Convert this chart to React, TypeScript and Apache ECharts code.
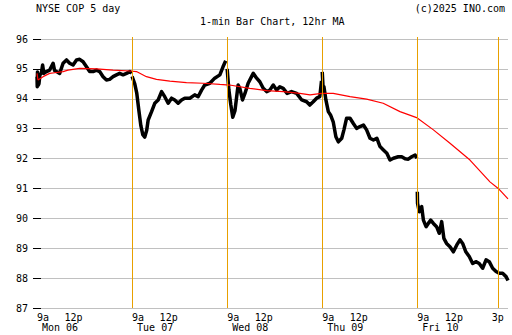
import React, { useEffect, useRef } from "react";
import * as echarts from "echarts";

const MINUTES_PER_DAY = 390;
const X_MAX = 1932;
const dayLabels = ["Mon 06", "Tue 07", "Wed 08", "Thu 09", "Fri 10"];
const hourLabelTicks = [150, 540, 930, 1320, 1710, 1890];
const dayStartTicks = [0, 390, 780, 1170, 1560];
const orangeLines = [390, 780, 1170, 1560, 1890];
const yTicks = { min: 87, max: 96, interval: 1 };

// [minute of session, price]
const monBars: number[][] = [
  [0, 94.74], [1, 94.4], [2, 94.9], [3, 94.63], [5, 94.45], [8, 94.5], [12, 94.8], [18, 94.86], [23, 95.13], [28, 94.85],
  [39, 94.91], [52, 94.96], [66, 95.19], [72, 94.95], [80, 94.91], [93, 94.85], [107, 95.19],
  [121, 95.3], [134, 95.19], [148, 95.13], [162, 95.3], [175, 95.32], [189, 95.24],
  [203, 95.07], [216, 94.91], [230, 94.91], [244, 94.96], [257, 94.91], [271, 94.74],
  [285, 94.63], [298, 94.65], [312, 94.74], [326, 94.8], [339, 94.85], [353, 94.8],
  [367, 94.85], [381, 94.91], [388, 94.85],
];
const tueBars: number[][] = [
  [0, 94.75], [11, 94.5], [19, 94.2], [28, 93.6], [36, 93.1], [44, 92.8], [52, 92.72],
  [60, 92.95], [66, 93.29], [80, 93.57], [93, 93.85], [107, 93.96], [121, 94.24],
  [134, 94.07], [148, 93.85], [162, 94.02], [175, 93.96], [189, 93.85], [203, 93.96],
  [216, 94.02], [237, 94.02], [257, 94.13], [271, 94.07], [285, 94.29], [298, 94.46],
  [319, 94.52], [339, 94.69], [360, 94.8], [373, 95.07], [384, 95.27],
];
const wedBars: number[][] = [
  [0, 95.0], [7, 94.3], [15, 93.8], [23, 93.38], [32, 93.6], [39, 94.07], [45, 94.46],
  [52, 94.35], [63, 93.96], [73, 94.18], [86, 94.52], [100, 94.74], [107, 94.85],
  [121, 94.69], [134, 94.57], [148, 94.35], [162, 94.24], [175, 94.29], [189, 94.46],
  [203, 94.29], [216, 94.4], [230, 94.35], [246, 94.18], [264, 94.24], [285, 94.18],
  [306, 93.96], [326, 93.9], [339, 93.79], [353, 93.9], [367, 94.02], [380, 94.07],
  [387, 94.6],
];
const thuBars: number[][] = [
  [0, 94.9], [4, 94.3], [7, 94.4], [15, 93.96], [25, 93.57], [34, 93.46], [45, 93.23],
  [56, 92.73], [66, 92.56], [80, 92.68], [89, 92.96], [100, 93.35], [114, 93.35],
  [127, 93.18], [141, 93.01], [155, 93.07], [169, 93.12], [182, 92.96], [196, 92.68],
  [210, 92.62], [224, 92.68], [237, 92.4], [251, 92.29], [265, 92.18], [278, 91.95],
  [292, 92.01], [312, 92.06], [326, 92.06], [340, 91.99], [353, 91.98], [367, 92.06],
  [381, 92.12], [388, 92.01],
];
const friBars: number[][] = [
  [0, 90.89], [1, 90.5], [8, 90.22], [18, 90.39], [25, 89.94], [36, 89.72], [45, 89.83],
  [55, 89.94], [66, 89.83], [79, 89.72], [90, 89.5], [100, 89.89], [109, 89.33],
  [120, 89.16], [134, 89.05], [148, 88.88], [162, 89.11], [175, 89.28], [186, 89.16],
  [199, 88.88], [213, 88.72], [227, 88.49], [240, 88.55], [254, 88.49], [268, 88.33],
  [282, 88.61], [295, 88.55], [309, 88.33], [323, 88.22], [336, 88.16], [350, 88.16],
  [364, 88.05], [372, 87.92],
];
const dayBars = [monBars, tueBars, wedBars, thuBars, friBars];

// 12hr moving average: [minute since Mon open, value]
const maLine: number[][] = [
  [0, 94.85], [4, 94.63], [25, 94.74], [52, 94.85], [80, 94.88], [107, 94.91], [127, 94.96],
  [175, 95.02], [244, 95.0], [312, 94.96], [381, 94.93], [408, 94.91], [449, 94.74],
  [490, 94.65], [545, 94.59], [613, 94.54], [681, 94.52], [750, 94.48], [790, 94.46],
  [873, 94.35], [942, 94.27], [1010, 94.24], [1078, 94.18], [1120, 94.13], [1167, 94.18],
  [1215, 94.18], [1284, 94.07], [1352, 93.99], [1420, 93.85], [1489, 93.57], [1557, 93.37],
  [1626, 92.96], [1694, 92.51], [1776, 91.95], [1858, 91.22], [1892, 91.0], [1932, 90.65],
];

const FONT = "DejaVu Sans Mono";
const ORANGE = "#e8a000";

export default function App() {
  const ref = useRef<HTMLDivElement>(null);
  useEffect(() => {
    if (!ref.current) return;
    const chart = echarts.init(ref.current, null, { renderer: "svg" });

    const priceData: (number | null)[][] = [];
    dayBars.forEach((bars, d) => {
      bars.forEach(([m, p]) => priceData.push([d * MINUTES_PER_DAY + m, p]));
      priceData.push([null, null]);
    });

    const hourLabel = (v: number) => (v === 1890 ? "3p" : "12p");
    const dayLabel = (v: number) => {
      const d = Math.round(v / MINUTES_PER_DAY);
      return `{h|9a}\n{d|${dayLabels[d]}}`;
    };
    const titleStyle = { fontFamily: FONT, fontSize: 10, fontWeight: "normal", color: "#000" };

    chart.setOption({
      animation: false,
      backgroundColor: "#ffffff",
      textStyle: { fontFamily: FONT },
      title: [
        { text: "NYSE COP 5 day", left: 36, top: 3, padding: 0, textStyle: titleStyle },
        { text: "1-min Bar Chart, 12hr MA", left: 200, top: 16, padding: 0, textStyle: titleStyle },
        { text: "(c)2025 INO.com", right: 7, top: 3, padding: 0, textStyle: titleStyle },
      ],
      grid: { left: 37, right: 4, top: 39, bottom: 27, containLabel: false },
      xAxis: [
        {
          type: "value", min: 0, max: X_MAX, position: "bottom",
          axisLine: { show: false }, axisTick: { show: false }, splitLine: { show: false },
          axisLabel: {
            customValues: hourLabelTicks, formatter: hourLabel, color: "#000",
            fontFamily: FONT, fontSize: 10, margin: 4, lineHeight: 10,
          },
        },
        {
          type: "value", min: 0, max: X_MAX, position: "bottom",
          axisLine: { show: false }, axisTick: { show: false }, splitLine: { show: false },
          axisLabel: {
            customValues: dayStartTicks, formatter: dayLabel, color: "#000",
            fontFamily: FONT, fontSize: 10, margin: 4, align: "left",
            rich: {
              h: { fontFamily: FONT, fontSize: 10, lineHeight: 10, color: "#000" },
              d: { fontFamily: FONT, fontSize: 10, lineHeight: 10, color: "#000", padding: [0, 0, 0, 5] },
            },
          },
        },
        {
          type: "value", min: 0, max: X_MAX, position: "top",
          axisLine: { show: false }, splitLine: { show: false }, axisLabel: { show: false },
          axisTick: { show: true, customValues: orangeLines, length: 2, lineStyle: { color: ORANGE, width: 1 } },
        },
      ],
      yAxis: [
        {
          type: "value", position: "left", min: yTicks.min, max: yTicks.max, interval: yTicks.interval,
          axisLine: { show: false },
          axisTick: { show: true, length: 4, lineStyle: { color: "#000" } },
          axisLabel: { color: "#000", fontFamily: FONT, fontSize: 10, margin: 9 },
          splitLine: { show: true, lineStyle: { color: "#c0c0c0", width: 1 } },
        },
        {
          type: "value", position: "right", min: yTicks.min, max: yTicks.max, interval: yTicks.interval,
          axisLine: { show: false },
          axisTick: { show: true, length: 4, lineStyle: { color: "#000" } },
          axisLabel: { show: false },
          splitLine: { show: false },
        },
      ],
      series: [
        {
          name: "price", type: "line", xAxisIndex: 0, yAxisIndex: 0,
          data: priceData, showSymbol: false, connectNulls: false,
          lineStyle: { color: "#000", width: 3.5, join: "round" },
          z: 3,
          markLine: {
            silent: true, symbol: "none", label: { show: false },
            lineStyle: { color: ORANGE, width: 1, type: "solid" },
            data: orangeLines.map((v) => ({ xAxis: v })),
          },
        },
        {
          name: "ma", type: "line", xAxisIndex: 0, yAxisIndex: 0,
          data: maLine, showSymbol: false,
          lineStyle: { color: "#ff0000", width: 1.2 },
          z: 4,
        },
      ],
    });
    return () => chart.dispose();
  }, []);
  return <div ref={ref} style={{ width: 512, height: 335, position: "absolute", left: 0, top: 0 }} />;
}
